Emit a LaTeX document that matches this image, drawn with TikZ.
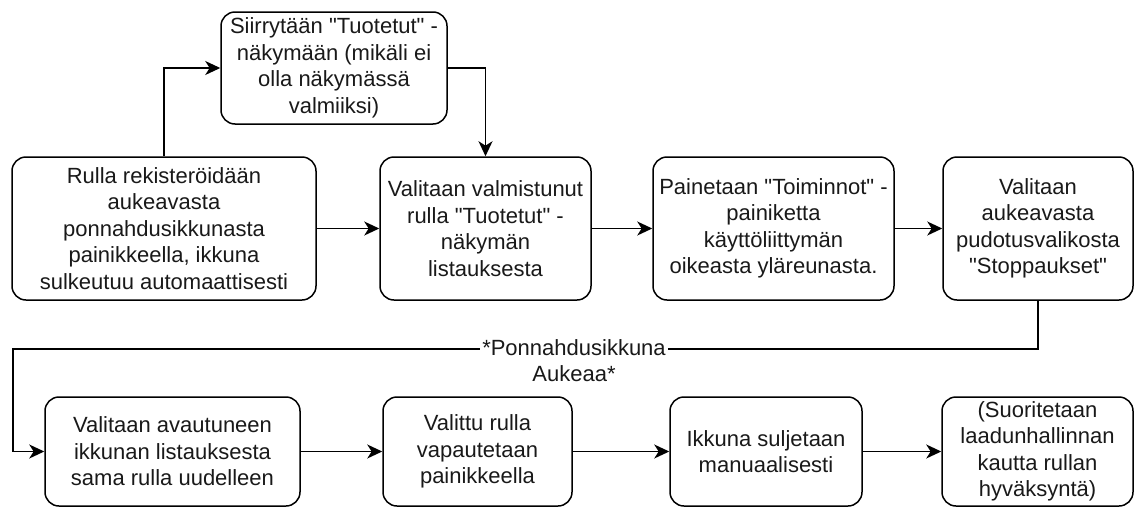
\documentclass[tikz,border=0pt]{standalone}
\usepackage{fontspec}
\setmainfont{Liberation Sans}[Ligatures=TeXOff]
\usetikzlibrary{arrows.meta}

\begin{document}
\begin{tikzpicture}[x=0.5pt, y=-0.5pt,
  box/.style={draw, line width=0.75pt, rounded corners=7pt, align=center,
    inner sep=0pt, text=black!90, font=\fontsize{11}{13.25}\selectfont},
  flow/.style={line width=0.75pt, -{Stealth[length=7.5pt, width=7pt, inset=2.2pt]}}]

\useasboundingbox (0,0) rectangle (1136,509);

% upper row
\node[box, minimum width=152pt, minimum height=71.5pt] (rulla) at (164,228.5)
  {Rulla rekisteröidään\\aukeavasta\\ponnahdusikkunasta\\painikkeella, ikkuna\\sulkeutuu automaattisesti};
\node[box, minimum width=113pt, minimum height=56pt] (siirry) at (334,68)
  {Siirrytään "Tuotetut" -\\näkymään (mikäli ei\\olla näkymässä\\valmiiksi)};
\node[box, minimum width=105.5pt, minimum height=71.5pt] (valmis) at (485.5,228.5)
  {Valitaan valmistunut\\rulla "Tuotetut" -\\näkymän\\listauksesta};
\node[box, minimum width=120.5pt, minimum height=71.5pt] (paine) at (773.5,228.5)
  {Painetaan "Toiminnot" -\\painiketta\\käyttöliittymän\\oikeasta yläreunasta.};
\node[box, minimum width=95pt, minimum height=71.5pt] (stoppa) at (1038,228.5)
  {Valitaan\\aukeavasta\\pudotusvalikosta\\"Stoppaukset"};

% lower row
\node[box, minimum width=127.5pt, minimum height=54.5pt] (avaut) at (172.5,451.5)
  {Valitaan avautuneen\\ikkunan listauksesta\\sama rulla uudelleen};
\node[box, minimum width=94.5pt, minimum height=54.5pt] (vapaut) at (477.5,451.5)
  {Valittu rulla\\vapautetaan\\painikkeella};
\node[box, minimum width=96pt, minimum height=54.5pt] (sulje) at (766,451.5)
  {Ikkuna suljetaan\\manuaalisesti};
\node[box, minimum width=95.5pt, minimum height=54.5pt] (suorit) at (1037.5,451.5)
  {(Suoritetaan\\laadunhallinnan\\kautta rullan\\hyväksyntä)};

\coordinate (kulma) at (13,349);

\draw[flow] (rulla.north) |- (siirry.west);
\draw[flow] (siirry.east) -| (valmis.north);
\draw[flow] (rulla) -- (valmis);
\draw[flow] (valmis) -- (paine);
\draw[flow] (paine) -- (stoppa);
\draw[flow] (stoppa.south) |- (kulma) |- (avaut.west);
\draw[flow] (avaut) -- (vapaut);
\draw[flow] (vapaut) -- (sulje);
\draw[flow] (sulje) -- (suorit);

\node[fill=white, inner sep=1pt, align=center, text=black!90,
  font=\fontsize{11}{13.25}\selectfont] (popup) at (574,360.5)
  {*Ponnahdusikkuna\\Aukeaa*};

\end{tikzpicture}
\end{document}
